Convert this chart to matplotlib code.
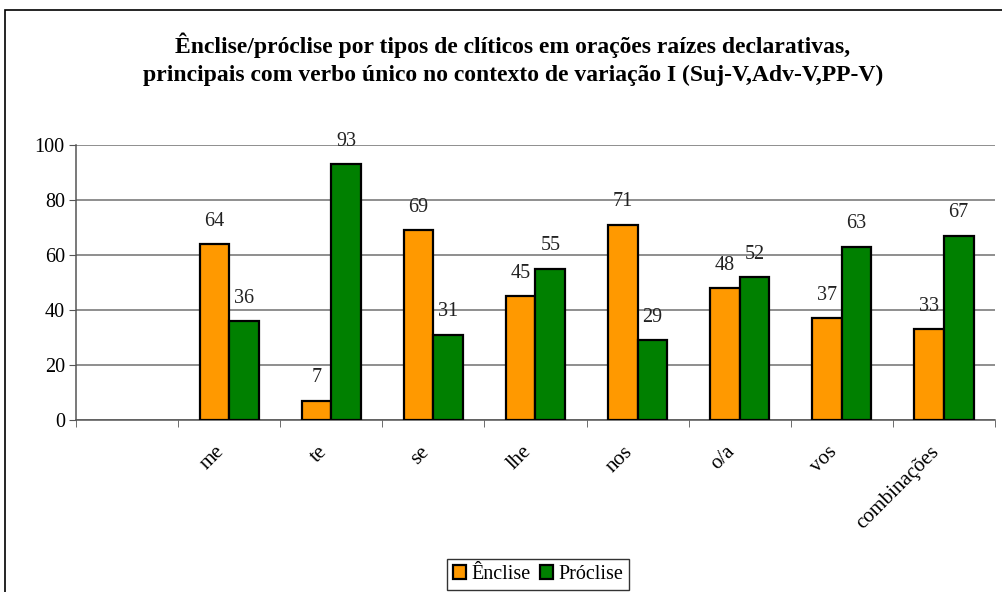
import numpy as np
import matplotlib
matplotlib.use("Agg")
import matplotlib.pyplot as plt
from matplotlib.patches import Rectangle
from matplotlib.transforms import ScaledTranslation

plt.rcParams['font.family'] = ['Liberation Serif', 'DejaVu Serif']

# categories (first slot is empty in the original)
categories = ["", "me", "te", "se", "lhe", "nos", "o/a", "vos", "combinações"]
enclise = [None, 64, 7, 69, 45, 71, 48, 37, 33]
proclise = [None, 36, 93, 31, 55, 29, 52, 63, 67]
series_names = ["Ênclise", "Próclise"]
colors = ["#FF9900", "#008000"]
yticks = [0, 20, 40, 60, 80, 100]

TITLE = ("Ênclise/próclise por tipos de clíticos em orações raízes declarativas,\n"
         "principais com verbo único no contexto de variação I (Suj-V,Adv-V,PP-V)")

fig = plt.figure(figsize=(10.02, 5.92), dpi=100)
ax = fig.add_axes([0.0758, 0.2905, 0.9172, 0.4645])

# outer frame like the Excel chart area
fig.patches.append(Rectangle((5/1002, -0.1), 1.2, 1 - 10/592 + 0.1,
                             transform=fig.transFigure, fill=False,
                             edgecolor="black", linewidth=1.2))

w = 0.29
for k, (vals, name, col) in enumerate(zip([enclise, proclise], series_names, colors)):
    xs = [i for i, v in enumerate(vals) if v is not None]
    hs = [v for v in vals if v is not None]
    off = (k - 0.5) * w
    ax.bar(np.array(xs) + off, hs, width=w, color=col,
           edgecolor="black", linewidth=1.6, label=name, zorder=3)
    for x, h in zip(xs, hs):
        ax.annotate(str(h), (x + off, h), xytext=(0, 16.5), textcoords="offset points",
                    ha="center", va="center", fontsize=14.5, color="#222222")

ax.set_xlim(-0.5, len(categories) - 0.5)
ax.set_ylim(0, 100)
ax.set_yticks(yticks)
ax.tick_params(axis="y", labelsize=14.5, length=5, color="#555555", pad=3)
ax.yaxis.grid(True, color="#707070", linewidth=1.1, zorder=0)
ax.set_axisbelow(True)

ax.set_xticks(range(len(categories)))
ax.set_xticklabels(categories, rotation=45, ha="right", va="top",
                   rotation_mode="anchor", fontsize=15)
ax.tick_params(axis="x", length=0, pad=16)
shift = ScaledTranslation(-0.14, 0, fig.dpi_scale_trans)
for lab in ax.get_xticklabels():
    lab.set_transform(lab.get_transform() + shift)
ax.set_xticks(np.arange(-0.5, len(categories)), minor=True)
ax.tick_params(axis="x", which="minor", length=5, color="#555555")

for s in ["top", "right"]:
    ax.spines[s].set_visible(False)
for s in ["left", "bottom"]:
    ax.spines[s].set_color("#555555")
    ax.spines[s].set_linewidth(1.1)

fig.text(0.512, 0.945, TITLE, ha="center", va="top", fontsize=17,
         fontweight="bold", linespacing=1.4)

leg = fig.legend(loc="lower center", bbox_to_anchor=(0.537, -0.014), ncol=2,
                 fontsize=14.5, frameon=True, fancybox=False, edgecolor="black",
                 handlelength=0.65, handleheight=0.65, handletextpad=0.25,
                 columnspacing=0.5, borderpad=0.3)
leg.get_frame().set_linewidth(1.0)

fig.savefig("out.png", dpi=100)
